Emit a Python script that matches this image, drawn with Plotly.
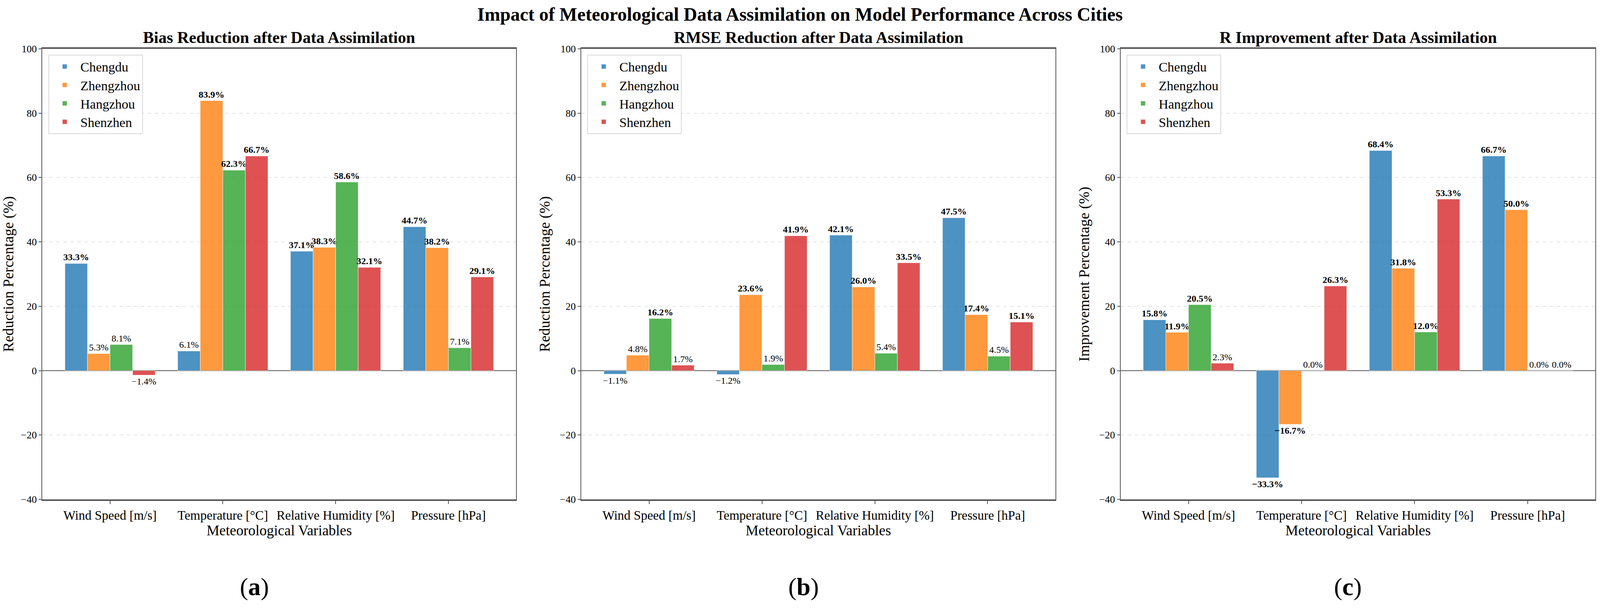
import plotly.graph_objects as go

# ---------------- data ----------------
variables = ["Wind Speed [m/s]", "Temperature [°C]", "Relative Humidity [%]", "Pressure [hPa]"]
cities = ["Chengdu", "Zhengzhou", "Hangzhou", "Shenzhen"]

bias_chengdu = [33.3, 6.1, 37.1, 44.7]
bias_zhengzhou = [5.3, 83.9, 38.3, 38.2]
bias_hangzhou = [8.1, 62.3, 58.6, 7.1]
bias_shenzhen = [-1.4, 66.7, 32.1, 29.1]

rmse_chengdu = [-1.1, -1.2, 42.1, 47.5]
rmse_zhengzhou = [4.8, 23.6, 26.0, 17.4]
rmse_hangzhou = [16.2, 1.9, 5.4, 4.5]
rmse_shenzhen = [1.7, 41.9, 33.5, 15.1]

r_chengdu = [15.8, -33.3, 68.4, 66.7]
r_zhengzhou = [11.9, -16.7, 31.8, 50.0]
r_hangzhou = [20.5, 0.0, 12.0, 0.0]
r_shenzhen = [2.3, 26.3, 53.3, 0.0]

panel_titles = ["Bias Reduction after Data Assimilation",
                "RMSE Reduction after Data Assimilation",
                "R Improvement after Data Assimilation"]
y_titles = ["Reduction Percentage (%)", "Reduction Percentage (%)", "Improvement Percentage (%)"]
panel_tags = ["a", "b", "c"]
main_title = "Impact of Meteorological Data Assimilation on Model Performance Across Cities"
x_title = "Meteorological Variables"

panels = [
    [bias_chengdu, bias_zhengzhou, bias_hangzhou, bias_shenzhen],
    [rmse_chengdu, rmse_zhengzhou, rmse_hangzhou, rmse_shenzhen],
    [r_chengdu, r_zhengzhou, r_hangzhou, r_shenzhen],
]

# ---------------- style ----------------
colors = ["rgba(31,119,180,0.8)", "rgba(255,127,14,0.8)",
          "rgba(44,160,44,0.8)", "rgba(214,39,40,0.8)"]
FONT = "Liberation Serif, Times New Roman, serif"

# reference canvas (pixel positions below are measured on it)
W, H = 4269, 1556


def px_x(p):
    return p / W


def px_y(p):
    return 1 - p / H


x_px = [(113, 1377), (1551, 2816), (2990, 4257)]
y_px = (113, 1288)
tag_x_px = [679, 2144, 3596]


def fmt(v):
    s = f"{v:.1f}%".replace("-", "\u2212")
    return f"<b>{s}</b>" if abs(v) > 10 else s


fig = go.Figure()
for k, series in enumerate(panels):
    xa = "x" if k == 0 else f"x{k + 1}"
    ya = "y" if k == 0 else f"y{k + 1}"
    lg = "legend" if k == 0 else f"legend{k + 1}"
    for j, city in enumerate(cities):
        vals = series[j]
        fig.add_trace(go.Bar(
            x=variables, y=vals, name=city,
            marker=dict(color=colors[j], line=dict(color="rgba(255,255,255,0.8)", width=1)),
            text=[fmt(v) for v in vals], textposition="outside", textangle=0,
            constraintext="none", cliponaxis=False,
            textfont=dict(family=FONT, size=24, color="black"),
            xaxis=xa, yaxis=ya, legend=lg, showlegend=True,
        ))

layout = dict(
    autosize=True,
    margin=dict(l=0, r=0, t=0, b=0),
    paper_bgcolor="white", plot_bgcolor="white",
    barmode="group", bargap=0.2, bargroupgap=0.0,
    font=dict(family=FONT, color="black"),
    title=dict(text=f"<b>{main_title}</b>", x=0.5, xanchor="center",
               y=px_y(36), yanchor="middle", font=dict(size=48, family=FONT)),
)

annotations = []
y_dom = [px_y(y_px[1]), px_y(y_px[0])]
for k in range(3):
    sfx = "" if k == 0 else str(k + 1)
    x0, x1 = x_px[k]
    layout[f"xaxis{sfx}"] = dict(
        domain=[px_x(x0), px_x(x1)], anchor=f"y{sfx}", type="category",
        range=[-0.6, 3.6],
        showline=True, mirror=True, linewidth=4, linecolor="#555555",
        ticks="outside", ticklen=8, tickwidth=2, tickcolor="#555555",
        tickfont=dict(size=33, family=FONT, color="black"),
        showgrid=False,
        title=dict(text=x_title, font=dict(size=37, family=FONT), standoff=8),
    )
    layout[f"yaxis{sfx}"] = dict(
        domain=y_dom, anchor=f"x{sfx}",
        range=[-40, 100], tick0=0, dtick=20,
        showline=True, mirror=True, linewidth=2, linecolor="#555555",
        ticks="outside", ticklen=7, tickwidth=2, tickcolor="#555555",
        tickfont=dict(size=26, family=FONT, color="black"),
        showgrid=True, gridcolor="#e3e3e3", griddash="dash", gridwidth=2,
        zeroline=True, zerolinecolor="#8a8a8a", zerolinewidth=3,
        title=dict(text=y_titles[k], font=dict(size=38, family=FONT), standoff=14),
    )
    layout[f"legend{sfx}"] = dict(
        x=px_x(x0 + 16), y=px_y(128), xanchor="left", yanchor="top",
        bgcolor="rgba(255,255,255,0.85)", bordercolor="#d9d9d9", borderwidth=2,
        font=dict(size=34, family=FONT, color="black"), itemwidth=70,
    )
    annotations.append(dict(
        text=f"<b>{panel_titles[k]}</b>", xref="paper", yref="paper",
        x=px_x((x0 + x1) / 2), y=px_y(84), xanchor="center", yanchor="middle",
        showarrow=False, font=dict(size=42, family=FONT, color="black"),
    ))
    annotations.append(dict(
        text=f"(<b>{panel_tags[k]}</b>)", xref="paper", yref="paper",
        x=px_x(tag_x_px[k]), y=px_y(1516), xanchor="center", yanchor="middle",
        showarrow=False, font=dict(size=64, family=FONT, color="black"),
    ))

layout["annotations"] = annotations
fig.update_layout(**layout)

# the figure fills the browser viewport exactly (no body margin, no scrollbars)
fix_page = ("document.documentElement.style.margin='0';"
            "document.documentElement.style.overflow='hidden';"
            "document.body.style.margin='0';"
            "document.body.style.overflow='hidden';"
            "Plotly.Plots.resize(document.getElementById('{plot_id}'));")
fig.write_html("out.html", default_width="100vw", default_height="100vh",
               config={"responsive": True, "displayModeBar": False},
               post_script=fix_page)
